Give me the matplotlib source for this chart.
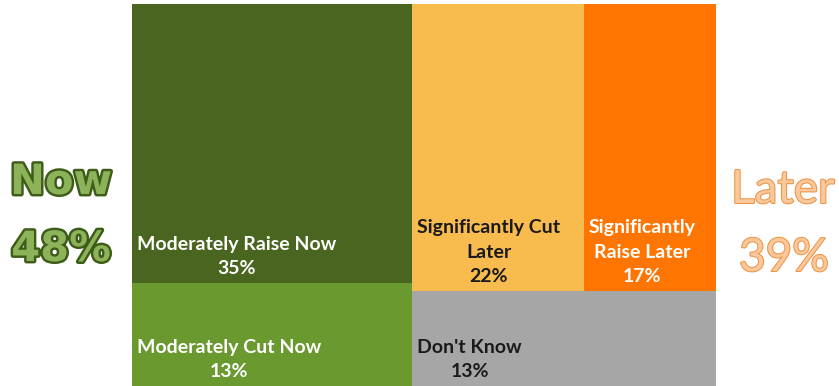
import matplotlib
matplotlib.use("Agg")
import matplotlib.pyplot as plt
import matplotlib.patheffects as pe
from matplotlib.patches import Rectangle

# treemap data (percent of respondents)
now_labels = ["Moderately Raise Now", "Moderately Cut Now"]
now_values = [35, 13]
later_top_labels = ["Significantly Cut\nLater", "Significantly\nRaise Later"]
later_top_values = [22, 17]
dont_know_label = "Don't Know"
dont_know_value = 13
now_total = "48%"
later_total = "39%"

c_now = ["#4a6520", "#6a992f"]
c_later = ["#f7bb4e", "#ff7501"]
c_dk = "#a6a6a6"

fig = plt.figure(figsize=(8.39, 3.86), dpi=100)
W, H = 584.0, 382.0
ax = fig.add_axes([132 / 839, 0, W / 839, H / 386])
ax.set_xlim(0, W)
ax.set_ylim(0, H)
ax.axis("off")

total = sum(now_values) + sum(later_top_values) + dont_know_value
fnt = dict(family="Lato", fontweight="bold", fontsize=14, linespacing=1.5)


def put_label(x, y, text, value, color):
    # label block sits near bottom-left of the cell, lines centred
    ax.text(x + 5, y + 6, "%s\n%d%%" % (text, value), color=color,
            ha="left", va="bottom", multialignment="center", **fnt)


# "Now" column
now_w = W * sum(now_values) / total
ytop = H
for lab, v, c in zip(now_labels, now_values, c_now):
    h = H * v / sum(now_values)
    ax.add_patch(Rectangle((0, ytop - h), now_w, h, facecolor=c, edgecolor="none"))
    put_label(0, ytop - h, lab, v, "white")
    ytop -= h

# "Later" column
later_w = W - now_w
top_h = H * sum(later_top_values) / (sum(later_top_values) + dont_know_value)
x0 = now_w
txt_cols = ["#1a1a1a", "white"]
for lab, v, c, tc in zip(later_top_labels, later_top_values, c_later, txt_cols):
    w = later_w * v / sum(later_top_values)
    ax.add_patch(Rectangle((x0, H - top_h), w, top_h, facecolor=c, edgecolor="none"))
    put_label(x0, H - top_h, lab, v, tc)
    x0 += w
ax.add_patch(Rectangle((now_w, 0), later_w, H - top_h, facecolor=c_dk, edgecolor="none"))
put_label(now_w, 0, dont_know_label, dont_know_value, "#1a1a1a")

# side totals
now_fx = [pe.Stroke(linewidth=3.5, foreground="#3d5c18"), pe.Normal()]
fig.text(61 / 839, 1 - 182 / 386, "Now", ha="center", va="center", fontsize=30,
         fontweight="bold", family="DejaVu Sans", color="#8db35a", path_effects=now_fx)
fig.text(61 / 839, 1 - 249 / 386, now_total, ha="center", va="center", fontsize=30,
         fontweight="bold", family="DejaVu Sans", color="#8db35a", path_effects=now_fx)

later_fx = [pe.Stroke(linewidth=1.5, foreground="#ec9446"), pe.Normal()]
fig.text(783 / 839, 1 - 190 / 386, "Later", ha="center", va="center", fontsize=33,
         family="Lato", color="#fbc89c", path_effects=later_fx)
fig.text(784 / 839, 1 - 258 / 386, later_total, ha="center", va="center", fontsize=33,
         family="Lato", color="#fbc89c", path_effects=later_fx)

fig.savefig("out.png", dpi=100, facecolor="white")
